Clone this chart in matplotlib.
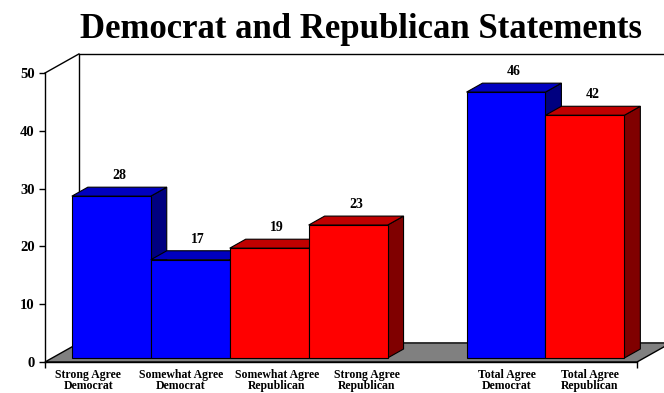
import numpy as np
import matplotlib.pyplot as plt
from matplotlib.patches import Polygon

plt.rcParams['font.family'] = ['Liberation Serif', 'DejaVu Serif']
plt.rcParams['font.weight'] = 'bold'

title = "Democrat and Republican Statements"
categories = ["Strong Agree\nDemocrat", "Somewhat Agree\nDemocrat",
              "Somewhat Agree\nRepublican", "Strong Agree\nRepublican",
              "Total Agree\nDemocrat", "Total Agree\nRepublican"]
values = [28, 17, 19, 23, 46, 42]
party = ["D", "D", "R", "R", "D", "R"]
slots = [0, 1, 2, 3, 5, 6]   # slot 4 stays empty as a spacer

# front / top / side shades
shades = {"D": ("#0000FF", "#0000C0", "#000080"),
          "R": ("#FF0000", "#C00000", "#800000")}

# pseudo 3d geometry (depth offset in data units)
DX, DY = 0.43, 3.3
d1, d2 = 0.21, 0.68
xl, xr = -0.75, 6.75
label_nudge = [-0.2, -0.03, 0.19, 0.33, 0.1, 0.15]

fig = plt.figure(figsize=(6.64, 3.93), dpi=100)
ax = fig.add_axes([45/664, 31/393, 592/664, 289/393])
ax.set_xlim(xl, xr)
ax.set_ylim(0, 50)
ax.set_facecolor('none')

# walls
ax.plot([xl, xl+DX], [50, 50+DY], color='black', lw=1, clip_on=False, zorder=1)
ax.plot([xl+DX, xl+DX, xr+2], [DY, 50+DY, 50+DY], color='black', lw=1, clip_on=False, zorder=1)
floor = Polygon([(xl, 0), (xr, 0), (xr+DX, DY), (xl+DX, DY)], closed=True,
                fc='#808080', ec='black', lw=1, clip_on=False, zorder=2)
ax.add_patch(floor)

w = d2 - d1
for s, v, p in zip(slots, values, party):
    front, top, side = shades[p]
    L = s - 0.5 + d1*DX
    R = s + 0.5 + d1*DX
    B = d1*DY
    T = B + v
    ax.add_patch(Polygon([(R, B), (R+w*DX, B+w*DY), (R+w*DX, T+w*DY), (R, T)],
                         closed=True, fc=side, ec='black', lw=0.8, clip_on=False, zorder=3))
    ax.add_patch(Polygon([(L, T), (R, T), (R+w*DX, T+w*DY), (L+w*DX, T+w*DY)],
                         closed=True, fc=top, ec='black', lw=0.8, clip_on=False, zorder=3))
    ax.bar(s + d1*DX, v, width=1.0, bottom=B, color=front, edgecolor='black',
           lw=0.8, clip_on=False, zorder=3)
    ax.text(s + (d1+d2)/2*DX, v + d2*DY + 1.4, str(v), ha='center', va='baseline',
            fontsize=10, fontweight='bold', zorder=4)

for sp in ['top', 'right']:
    ax.spines[sp].set_visible(False)
ax.spines['left'].set_linewidth(1)
ax.spines['bottom'].set_linewidth(1)
ax.spines['bottom'].set_zorder(5)

ax.set_yticks(range(0, 51, 10))
ax.tick_params(axis='y', direction='out', length=4.5, width=1, pad=3, labelsize=10.5)
ax.set_xticks([s + n for s, n in zip(slots, label_nudge)], categories)
ax.tick_params(axis='x', which='major', length=0, pad=5, labelsize=8.5)
for lab in ax.get_xticklabels():
    lab.set_linespacing(0.95)
ax.set_xticks([xl, xr], minor=True)
ax.tick_params(axis='x', which='minor', direction='out', length=4, width=1)

fig.text(0.543, 0.925, title, ha='center', va='center', fontsize=25, fontweight='bold')

fig.savefig('out.png', dpi=100)
